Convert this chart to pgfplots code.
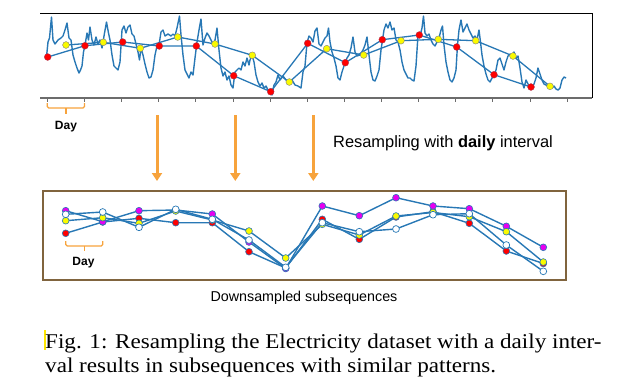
\documentclass[border=0pt]{standalone}
\usepackage{pgfplots}
\pgfplotsset{compat=1.18}
\usepackage{fontspec}
\usetikzlibrary{arrows.meta}
\newfontfamily\sfont{Liberation Sans}
\newfontfamily\capfont[FakeStretch=1.1]{Liberation Serif}
\definecolor{ser}{RGB}{40,120,181}
\definecolor{org}{RGB}{247,163,60}
\definecolor{brn}{RGB}{128,100,62}
\definecolor{mag}{RGB}{230,0,240}
\definecolor{yel}{RGB}{250,250,0}
\begin{document}
\begin{tikzpicture}
\path[use as bounding box] (0pt,0pt) rectangle (630pt,-381pt);
% ---------- top panel ----------
\begin{axis}[at={(40pt,-13pt)}, anchor=north west, scale only axis,
  width=552pt, height=85pt, xmin=40, xmax=592, ymin=13, ymax=98,
  y dir=reverse, hide axis, clip=false]
\addplot[ser, line width=1.4pt, line join=round] coordinates {
(46.5,57)(48,42)(49.5,38)(51.5,17)(53,40)(55,44)(58,40)(61,38)(63,36)(65,30)(67,23)(69,38)(71,40)(73,55)(75,62)(77,68)(79,73)(80.5,70)(82,66)(83.5,52)(85,45)
(87,33)(88.5,40)(90,27)(92,40)(94,45)(96,37)(98,44)(100,40)(102,48)(104,36)(106.5,22)(108.5,33)(110,40)(112,55)(114,66)(116,68)(118,70)(120,62)(122,30)(124,26)(126,33)
(128,27)(130,25)(132,34)(134,36)(136,44)(138,52)(139.5,60)(141,48)(143,55)(145,64)(147,72)(149,78)(151,77)(153,70)(155,55)(157,46)(159,45)(161,32)(163,30)(165,36)(168,34)(171,36)
(173,34)(175,36)(177,28)(179.5,16)(181,35)(183,55)(185,70)(187,74)(189,78)(191,72)(193,75)(195,58)(197,42)(199,30)
(201,19)(203,45)(205,38)(207,33)(209,36)(211,40)(213,44)(215,40)(217,28)(219,50)(221,68)(223,76)(225,72)(227,80)(229,76)(231,85)(233,88)(235,72)(237,70)(239,68)
(241,70)(243,62)(245,66)(247,58)(249,65)(250,60)(252,55)(254,62)(256,75)(258,82)(260,86)(262,83)(264,88)(266,86)(268,90)(270,93)(272,95)(274,85)(276,82)(278,75)
(280,80)(283,76)(286,80)(289,83)(292,80)(295,85)(298,86)(301,88)(303,72)(305,66)(307,43)
(309,36)(311,38)(313,42)(315,31)(317,28)(319,44)(321,46)(323,42)(325,38)(327,36)(328.5,28)(330,42)(332,52)(334,58)(336,66)(338,78)(340,80)(342,72)(345,63)
(347,58)(349,55)(351,48)(353,37)(355,52)(357,56)(360,55)(363,50)(365,45)(367,37)(369,55)(371,72)(373,80)(375,81)(377,76)(379,70)(381,50)(382.5,40)(384,30)(386,24)(388,28)(390,22)(392,30)(394,28)(396,40)
(398,42)(400,50)(402,62)(404,70)(406,74)(408,78)(410,78)(412,80)(414,81)(416,66)(418,35)(420,36)(422,28)(423.5,16)(425,33)(427,36)(429,34)(431,40)(433,44)(435,46)(437,42)
(439,38)(441,30)(442.5,26)(444,45)(446,62)(448,72)(450,80)(452,82)(454,78)(456,70)(457.5,45)(459,30)(461,20)(463,32)(465,28)(467,24)(469,30)(471,34)(473,38)(475,36)(477,40)
(479,30)(480.5,42)(482,55)(484,66)(486,74)(488,80)(490,82)(492,78)(494,76)(496,70)(498,60)(500,58)(502,64)(504,70)(506,62)(508,56)(510,54)(512,56)(514,52)(516,58)(518,56)
(520,68)(522,82)(524,88)(526,80)(528,84)(530,86)(532,88)(534,84)(536,78)(538,68)(540,74)(542,80)(544,84)(546,85)(548,86)(550,87)(552,88)(554,86)(556,89)(558,90)(560,88)(562,80)(564,77)(566,78)
};
\addplot[ser, line width=1.3pt, mark=*, mark size=3.4pt,
  mark options={fill=red, draw=red!60!ser, line width=0.4pt}] coordinates {
(47.7,57)(85,45.7)(122.7,42)(159.3,46)(196.3,46)(233.7,75.7)(270.7,91.7)(307.7,43.3)(345.3,62.7)(382.3,39.7)(419.3,35)(456.7,47)(494,74.7)(531,87)};
\addplot[ser, line width=1.3pt, mark=*, mark size=3.4pt,
  mark options={fill=yel, draw=gray, line width=0.4pt}] coordinates {
(66,45)(103.3,42.3)(140.3,48.3)(177.7,37)(215,44)(252.3,55.3)(289.3,82)(326.7,48.7)(363.7,55)(401,40.7)(438.3,39.3)(475.7,40.7)(513,56)(550,86.3)};
\end{axis}
% frame of top panel
\draw[black, line width=0.9pt] (40pt,-13pt) -- (592pt,-13pt) -- (592pt,-98pt);
\draw[gray!85!black, line width=1.5pt] (40pt,-98pt) -- (592pt,-98pt);
\foreach \k in {0,...,14} {
  \draw[gray!85!black, line width=1pt] ({47.3pt+\k*37.14pt},-98pt) -- ({47.3pt+\k*37.14pt},-102pt);
}
% top brace
\draw[org, line width=1.2pt, rounded corners=1.5pt] (47.3pt,-103pt) -- (47.3pt,-108pt) -- (84.4pt,-108pt) -- (84.4pt,-103pt);
\draw[org, line width=1.2pt] (65.9pt,-108pt) -- (65.9pt,-114pt);
\node[font=\sfont\bfseries\fontsize{12}{13}\selectfont, anchor=base] at (66pt,-129pt) {Day};
% arrows
\foreach \xa in {157,235.3,313.3} {
  \draw[org, line width=3pt, -{Triangle[width=10pt,length=8pt]}] (\xa pt,-115pt) -- (\xa pt,-181pt);
}
\node[font=\sfont\fontsize{16.4}{18}\selectfont, anchor=base west, inner sep=0pt] at (333pt,-147pt) {Resampling with \textbf{daily} interval};
% ---------- bottom panel ----------
\draw[brn, line width=1.2pt] (43pt,-191pt) rectangle (566pt,-280pt);
\begin{axis}[at={(43pt,-191pt)}, anchor=north west, scale only axis,
  width=523pt, height=89pt, xmin=43, xmax=566, ymin=191, ymax=280,
  y dir=reverse, hide axis, clip=false]
\addplot[ser, line width=1.4pt, mark=*, mark size=3.4pt,
  mark options={fill=red, draw=ser, line width=0.6pt}] coordinates {
(65.7,233.3)(102.7,222)(139,218.3)(175.7,222.7)(212.3,222.7)(249,251.7)(285.7,268)(322.3,219.3)(359.3,239.3)(396,217)(433,211.7)(469.3,223.3)(506.3,251)(543.3,263.5)};
\addplot[ser, line width=1.4pt, mark=*, mark size=3.4pt,
  mark options={fill=mag, draw=ser, line width=0.6pt}] coordinates {
(65.7,210.7)(102.7,221.7)(139,210.7)(175.7,210)(212.3,214)(249,242)(285.7,268.5)(322.3,206)(359.3,215.7)(396,197.7)(433,206)(469.3,208.7)(506.3,226.3)(543.3,247.3)};
\addplot[ser, line width=1.4pt, mark=*, mark size=3.4pt,
  mark options={fill=yel, draw=ser, line width=0.6pt}] coordinates {
(65.7,220.7)(102.7,217.7)(139,223.3)(175.7,211)(212.3,220)(249,231)(285.7,258)(322.3,224.3)(359.3,235)(396,216)(433,212.5)(469.3,216.7)(506.3,231.7)(543.3,262)};
\addplot[ser, line width=1.4pt, mark=*, mark size=3.4pt,
  mark options={fill=white, draw=ser, line width=0.7pt}] coordinates {
(65.7,214.3)(102.7,212)(139,227.3)(175.7,209.3)(212.3,219.3)(249,240)(285.7,267.3)(322.3,222.7)(359.3,231.7)(396,229)(433,214.7)(469.3,213.7)(506.3,245)(543.3,271.3)};
\end{axis}
% bottom brace
\draw[org, line width=1.2pt, rounded corners=1.5pt] (65.7pt,-241pt) -- (65.7pt,-246pt) -- (102.7pt,-246pt) -- (102.7pt,-241pt);
\draw[org, line width=1.2pt] (84.2pt,-246pt) -- (84.2pt,-251pt);
\node[font=\sfont\bfseries\fontsize{12}{13}\selectfont, anchor=base] at (83.5pt,-265pt) {Day};
\node[font=\sfont\fontsize{14.3}{16}\selectfont, anchor=base, inner sep=0pt] at (304pt,-301pt) {Downsampled subsequences};
% caption
\fill[yellow!90!orange] (44pt,-330pt) rectangle (46pt,-350pt);
\node[font=\capfont\fontsize{21}{24}\selectfont, anchor=base west, inner sep=0pt] at (45pt,-348pt) {Fig. 1: Resampling the Electricity dataset with a daily inter-};
\node[font=\capfont\fontsize{21}{24}\selectfont, anchor=base west, inner sep=0pt] at (45pt,-372pt) {val results in subsequences with similar patterns.};
\end{tikzpicture}
\end{document}
